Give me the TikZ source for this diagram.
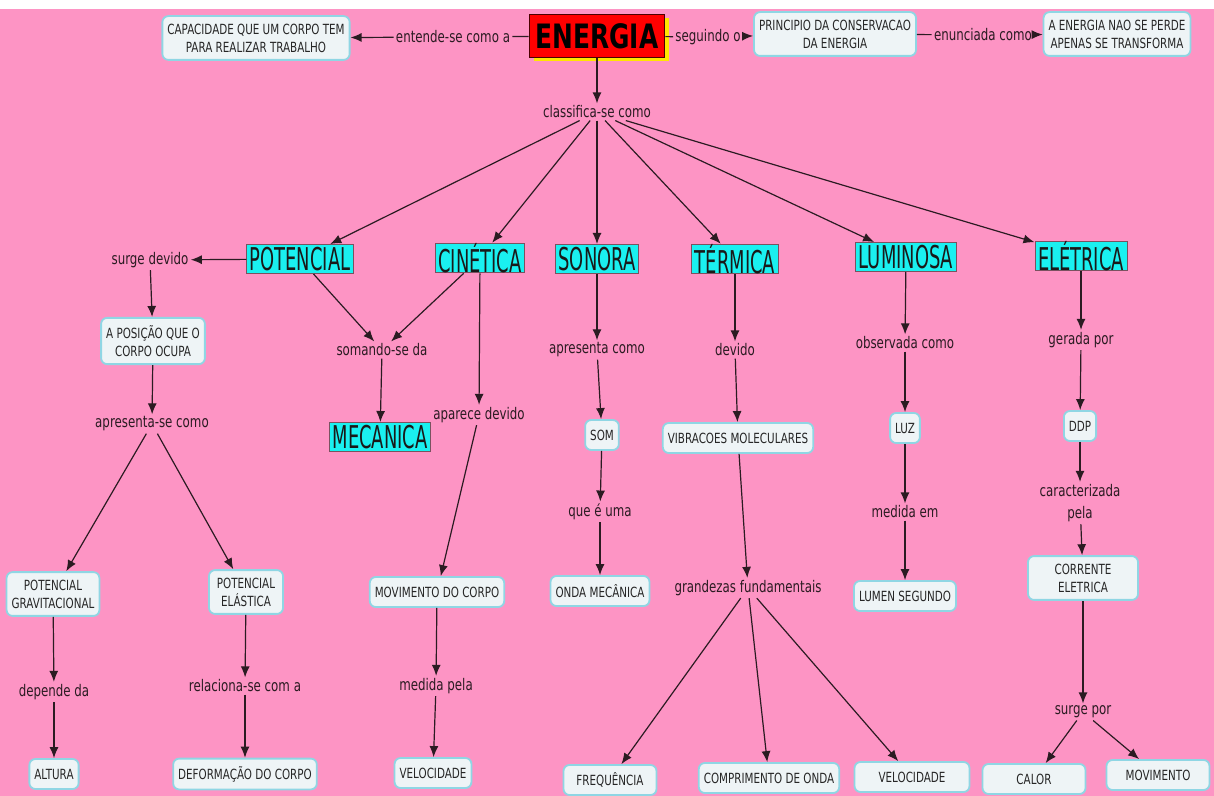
\documentclass[tikz,border=0pt]{standalone}
\usepackage{fontspec}
\setmainfont{DejaVu Sans}[FakeStretch=0.74]
\newfontfamily\narrowfont{DejaVu Sans}[FakeStretch=0.57]
\usepackage{tikz}
\usetikzlibrary{arrows.meta,shadows}
\definecolor{bgpink}{HTML}{FD94C4}
\definecolor{cyanbox}{HTML}{1AF0F0}
\definecolor{cyanedge}{HTML}{7A5260}
\definecolor{boxfill}{HTML}{EEF4F6}
\definecolor{boxedge}{HTML}{8FD6E4}
\definecolor{inkdark}{HTML}{2B1B22}
\definecolor{redmain}{HTML}{FF0000}
\definecolor{yellowsh}{HTML}{FFE600}
\tikzset{
  cmbox/.style={draw=boxedge, line width=0.9pt, fill=boxfill, rounded corners=3pt,
    align=center, inner xsep=2.5pt, inner ysep=3.8pt, minimum height=15pt,
    text=black!85, font=\fontsize{7}{9}\selectfont},
  concept/.style={draw=cyanedge, line width=0.5pt, fill=cyanbox, inner xsep=1.5pt,
    inner ysep=0pt, minimum height=14.5pt, text=black!90,
    font=\narrowfont\fontsize{15.7}{16}\selectfont},
  linkph/.style={inner sep=1pt, align=center, text=inkdark,
    font=\fontsize{8}{11}\selectfont},
  conn/.style={draw=inkdark, line width=0.6pt}
}

\begin{document}
\begin{tikzpicture}[x=0.5pt,y=-0.5pt,>={Latex[length=5.5pt,width=4.5pt]}]
  \useasboundingbox (0,0) rectangle (1214,796);
  \fill[white] (0,0) rectangle (1214,796);
  \fill[bgpink] (0,9) rectangle (1214,796);

  % top row
  \node[concept, fill=redmain, draw=black!70!red, line width=0.8pt,
    minimum width=67.5pt, minimum height=21.5pt, text=black,
    font=\bfseries\fontsize{16.8}{18}\selectfont,
    drop shadow={fill=yellowsh, opacity=1, shadow xshift=2pt, shadow yshift=-2pt}]
    (energia) at (597,36) {ENERGIA};
  \node[cmbox] (capac) at (256,38) {CAPACIDADE QUE UM CORPO TEM\\PARA REALIZAR TRABALHO};
  \node[linkph] (entende) at (453,37) {entende-se como a};
  \node[linkph] (seguindo) at (708,37) {seguindo o};
  \node[cmbox] (princ) at (835,34) {PRINCIPIO DA CONSERVACAO\\DA ENERGIA};
  \node[linkph] (enunc) at (983,35) {enunciada como};
  \node[cmbox] (naoperde) at (1117,34) {A ENERGIA NAO SE PERDE\\APENAS SE TRANSFORMA};
  \node[linkph] (classif) at (597,112) {classifica-se como};

  % forms of energy
  \node[concept] (potencial) at (300,259) {POTENCIAL};
  \node[concept] (cinetica) at (480,258) {CINÉTICA};
  \node[concept] (sonora) at (597,259) {SONORA};
  \node[concept] (termica) at (735,259) {TÉRMICA};
  \node[concept] (luminosa) at (906,257) {LUMINOSA};
  \node[concept] (eletrica) at (1081,256) {ELÉTRICA};
  \node[concept] (mecanica) at (380,437) {MECANICA};

  % potencial
  \node[linkph] (surgedev) at (150,260) {surge devido};
  \node[cmbox] (posicao) at (153,341) {A POSIÇÃO QUE O\\CORPO OCUPA};
  \node[linkph] (apres) at (152,424) {apresenta-se como};
  \node[cmbox] (potgrav) at (53,594) {POTENCIAL\\GRAVITACIONAL};
  \node[cmbox, minimum width=37pt] (potelas) at (246,592) {POTENCIAL\\ELÁSTICA};
  \node[linkph] (depende) at (54,692) {depende da};
  \node[cmbox] (altura) at (54,774) {ALTURA};
  \node[linkph] (relac) at (245,686) {relaciona-se com a};
  \node[cmbox] (deform) at (245,774) {DEFORMAÇÃO DO CORPO};

  % cinetica / mecanica
  \node[linkph] (somando) at (382,350) {somando-se da};
  \node[linkph] (aparece) at (479,415) {aparece devido};
  \node[cmbox] (movcorpo) at (437,592) {MOVIMENTO DO CORPO};
  \node[linkph] (medpela) at (436,686) {medida pela};
  \node[cmbox] (veloca) at (433,773) {VELOCIDADE};

  % sonora
  \node[linkph] (apcomo) at (597,350) {apresenta como};
  \node[cmbox] (som) at (602,435) {SOM};
  \node[linkph] (queuma) at (600,512) {que é uma};
  \node[cmbox] (onda) at (600,591) {ONDA MECÂNICA};

  % termica
  \node[linkph] (devido) at (735,350) {devido};
  \node[cmbox] (vibra) at (738,438) {VIBRACOES MOLECULARES};
  \node[linkph] (grandezas) at (748,588) {grandezas fundamentais};
  \node[cmbox, minimum width=46.5pt] (freq) at (610,780) {FREQUÊNCIA};
  \node[cmbox] (compr) at (769,778) {COMPRIMENTO DE ONDA};
  \node[cmbox, minimum width=57.5pt] (velocb) at (912,777) {VELOCIDADE};

  % luminosa
  \node[linkph] (observ) at (905,343) {observada como};
  \node[cmbox] (luz) at (905,428) {LUZ};
  \node[linkph] (medem) at (905,512) {medida em};
  \node[cmbox] (lumen) at (905,596) {LUMEN SEGUNDO};

  % eletrica
  \node[linkph] (gerada) at (1081,340) {gerada por};
  \node[cmbox] (ddp) at (1080,426) {DDP};
  \node[linkph] (caract) at (1080,503) {caracterizada\\pela};
  \node[cmbox, minimum width=55pt] (corrente) at (1083,578) {CORRENTE\\ELETRICA};
  \node[linkph] (surgepor) at (1083,712) {surge por};
  \node[cmbox, minimum width=51.5pt] (calor) at (1034,779) {CALOR};
  \node[cmbox, minimum width=51.5pt] (movim) at (1158,775) {MOVIMENTO};

  % connectors
  \draw[conn] (energia) -- (entende);
  \draw[conn] (energia) -- (seguindo);
  \draw[conn] (princ) -- (enunc);
  \foreach \a/\b in {entende/capac, seguindo/princ, enunc/naoperde, energia/classif,
      classif/potencial, classif/cinetica, classif/sonora, classif/termica,
      classif/luminosa, classif/eletrica,
      potencial/surgedev, surgedev/posicao, posicao/apres, apres/potgrav, apres/potelas,
      potgrav/depende, depende/altura, potelas/relac, relac/deform,
      potencial/somando, cinetica/somando, somando/mecanica,
      cinetica/aparece, aparece/movcorpo, movcorpo/medpela, medpela/veloca,
      sonora/apcomo, apcomo/som, som/queuma, queuma/onda,
      termica/devido, devido/vibra, vibra/grandezas,
      grandezas/freq, grandezas/compr, grandezas/velocb,
      luminosa/observ, observ/luz, luz/medem, medem/lumen,
      eletrica/gerada, gerada/ddp, ddp/caract, caract/corrente,
      corrente/surgepor, surgepor/calor, surgepor/movim}
    \draw[conn,->] (\a) -- (\b);
\end{tikzpicture}
\end{document}
